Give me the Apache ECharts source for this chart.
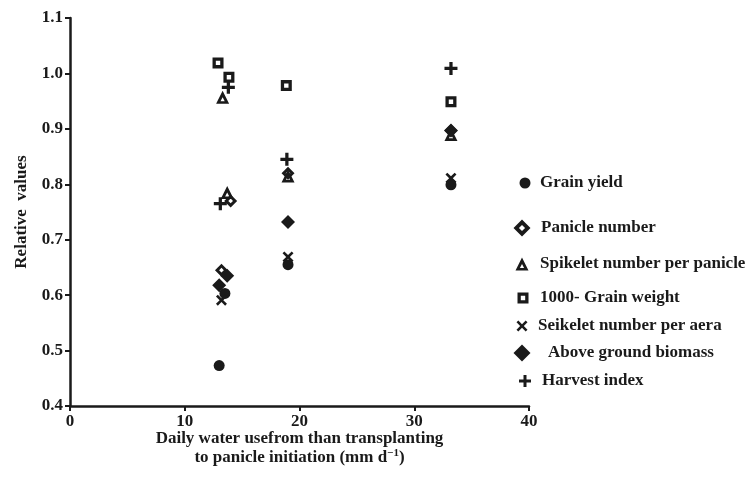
<!DOCTYPE html>
<html>
<head>
<meta charset="utf-8">
<title>Relative values vs daily water use</title>
<script src="https://cdn.jsdelivr.net/npm/echarts@6/dist/echarts.min.js"></script>
<style>
  html, body { margin: 0; padding: 0; background: #fff; }
  #chart { width: 746px; height: 478px; }
</style>
</head>
<body>
<div id="chart"></div>
<script>
  // 各指标的数据（x: 日耗水量，y: 相对值）
  const grainYieldX = [13.0, 13.5, 19.0, 33.2];
  const grainYieldY = [0.473, 0.603, 0.655, 0.799];
  const panicleX = [13.2, 14.0, 19.0, 33.2];
  const panicleY = [0.645, 0.770, 0.820, 0.897];
  const spikeletX = [13.3, 13.7, 19.0, 33.2];
  const spikeletY = [0.957, 0.785, 0.815, 0.890];
  const grainWeightX = [12.9, 13.85, 18.85, 33.2];
  const grainWeightY = [1.019, 0.993, 0.978, 0.949];
  const seikeletX = [13.2, 19.0, 33.2];
  const seikeletY = [0.591, 0.669, 0.811];
  const biomassX = [13.0, 13.7, 19.0, 33.2];
  const biomassY = [0.618, 0.635, 0.732, 0.897];
  const harvestX = [13.1, 13.8, 18.9, 33.2];
  const harvestY = [0.765, 0.975, 0.845, 1.009];

  const xTicks = [0, 10, 20, 30, 40];
  const yTicks = [0.4, 0.5, 0.6, 0.7, 0.8, 0.9, 1.0, 1.1];

  const names = [
    'Grain yield',
    'Panicle number',
    'Spikelet number per panicle',
    '1000- Grain weight',
    'Seikelet number per aera',
    'Above ground biomass',
    'Harvest index'
  ];

  // 符号（空心的用带洞的路径，线条更粗）
  const plusPath = 'path://M4.5,0h3v4.5h4.5v3h-4.5v4.5h-3v-4.5h-4.5v-3h4.5z';
  const crossPath = 'path://M0,2L2,0L6,4L10,0L12,2L8,6L12,10L10,12L6,8L2,12L0,10L4,6Z';
  const ringRect = 'path://M0,0H10V10H0Z M3,3V7H7V3Z';
  const ringDiamond = 'path://M5,0L10,5L5,10L0,5Z M5,3.2L3.2,5L5,6.8L6.8,5Z';
  const ringTriangle = 'path://M5,0L10,10L0,10Z M5,5L3.4,8L6.6,8Z';

  const pair = (xs, ys) => xs.map((x, i) => [x, ys[i]]);

  const font = '"Liberation Serif", "Times New Roman", serif';
  const ink = '#1a1a1a';

  const ecChart = echarts.init(document.getElementById('chart'));

  // 图例：每项单独定位（原图间距不均匀）
  const legendTops = [183, 228, 264, 298, 326, 353, 381];
  const legendLefts = [519.5, 513.5, 515.5, 517.5, 516.5, 513.5, 519];
  const legendSizes = [11, 17, 13, 11, 11, 17, 12];
  const legendPads = [4.5, 5.5, 6.5, 6.5, 5.5, 12.5, 6];
  const legend = names.map((n, i) => ({
    data: [n],
    left: legendLefts[i],
    top: legendTops[i] - 9,
    padding: 0,
    itemWidth: legendSizes[i],
    itemHeight: legendSizes[i],
    selectedMode: false,
    textStyle: {
      color: ink,
      fontFamily: font,
      fontSize: 17,
      fontWeight: 'bold',
      lineHeight: 18,
      padding: [0, 0, 0, legendPads[i]]
    }
  }));

  const mk = (name, data, symbol, size) => ({
    name: name,
    type: 'scatter',
    data: data,
    symbol: symbol,
    symbolSize: size,
    itemStyle: { color: ink, opacity: 1 },
    emphasis: { disabled: true },
    animation: false
  });

  const option = {
    backgroundColor: '#fff',
    legend: legend,
    grid: {
      left: 70,
      right: 217,
      top: 18,
      bottom: 72,
      containLabel: false
    },
    xAxis: {
      type: 'value',
      min: 0,
      max: 40,
      interval: 10,
      name: 'Daily water usefrom than transplanting\nto panicle initiation (mm d{sup|−1})',
      nameLocation: 'middle',
      nameGap: 23,
      nameMoveOverlap: false,
      nameTextStyle: {
        color: ink,
        fontFamily: font,
        fontSize: 17,
        fontWeight: 'bold',
        lineHeight: 19,
        rich: {
          sup: {
            color: ink,
            fontFamily: font,
            fontSize: 11,
            fontWeight: 'bold',
            verticalAlign: 'top',
            padding: [0, 0, 8, 0]
          }
        }
      },
      splitLine: { show: false },
      axisLine: { show: true, lineStyle: { color: ink, width: 2.5 } },
      axisTick: { show: true, length: 5, lineStyle: { color: ink, width: 2 } },
      axisLabel: {
        color: ink,
        fontFamily: font,
        fontSize: 17,
        fontWeight: 'bold',
        margin: 7,
        customValues: xTicks
      }
    },
    yAxis: {
      type: 'value',
      min: 0.4,
      max: 1.1,
      interval: 0.1,
      name: 'Relative  values',
      nameLocation: 'middle',
      nameGap: 40,
      nameMoveOverlap: false,
      nameTextStyle: {
        color: ink,
        fontFamily: font,
        fontSize: 17,
        fontWeight: 'bold'
      },
      splitLine: { show: false },
      axisLine: { show: true, lineStyle: { color: ink, width: 2.5 } },
      axisTick: { show: true, length: 5, lineStyle: { color: ink, width: 2 } },
      axisLabel: {
        color: ink,
        fontFamily: font,
        fontSize: 17,
        fontWeight: 'bold',
        margin: 7,
        formatter: v => {
          const t = yTicks.find(y => Math.abs(y - v) < 1e-6);
          return t === undefined ? '' : t.toFixed(1);
        }
      }
    },
    series: [
      mk(names[3], pair(grainWeightX, grainWeightY), ringRect, 11),
      mk(names[2], pair(spikeletX, spikeletY), ringTriangle, 13),
      mk(names[1], pair(panicleX, panicleY), ringDiamond, 13),
      mk(names[0], pair(grainYieldX, grainYieldY), 'circle', 11),
      mk(names[4], pair(seikeletX, seikeletY), crossPath, 11),
      mk(names[5], pair(biomassX, biomassY), 'diamond', 14),
      mk(names[6], pair(harvestX, harvestY), plusPath, 13)
    ]
  };

  ecChart.setOption(option);
</script>
</body>
</html>
